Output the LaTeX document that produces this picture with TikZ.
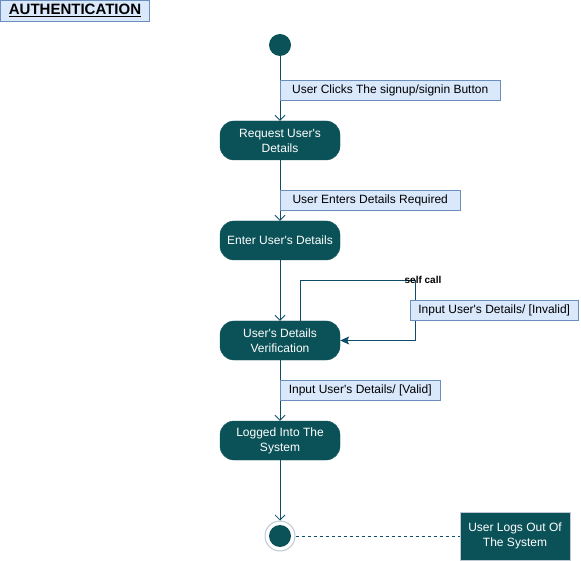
\documentclass[tikz,border=0pt]{standalone}
\usepackage{fontspec}
\setmainfont{Liberation Sans}
\usetikzlibrary{arrows.meta}
\definecolor{actfill}{HTML}{0B5258}
\definecolor{flowline}{HTML}{0E4D6A}
\definecolor{lblfill}{HTML}{DAE8FC}
\definecolor{lblline}{HTML}{6C8EBF}
\definecolor{ringline}{HTML}{BFC9D3}
\newcommand{\ap}{\textquotesingle}

\begin{document}
\begin{tikzpicture}[x=1pt,y=-1pt]
    \tikzstyle{every node}=[font=\fontsize{12}{15}\selectfont];
    \tikzstyle{activity}=[draw=actfill,fill=actfill,text=white,rounded corners=14pt,minimum width=120pt,minimum height=39pt,align=center,inner sep=1pt];
    \tikzstyle{guard}=[draw=lblline,fill=lblfill,anchor=west,minimum height=20pt,inner sep=1pt];
    \tikzstyle{flow}=[draw=flowline,line width=0.8pt,-{Straight Barb[length=5pt,width=10pt]}];
    \useasboundingbox (0,0) rectangle (581,561);
    \node[draw=lblline,fill=lblfill,minimum width=149pt,minimum height=21pt,inner sep=1pt,font=\fontsize{15}{17}\selectfont\bfseries] (title) at (75,10.5) {\underline{AUTHENTICATION}};
    \node[circle,fill=actfill,minimum size=22pt,inner sep=0pt] (start) at (280,45) {};
    \node[activity] (request) at (280,140.5) {Request User\ap s\\Details};
    \node[activity] (enter) at (280,240.5) {Enter User\ap s Details};
    \node[activity] (verify) at (280,340.5) {User\ap s Details\\Verification};
    \node[activity] (logged) at (280,440.5) {Logged Into The\\System};
    \node[circle,draw=ringline,fill=white,line width=1pt,minimum size=30pt,inner sep=0pt] (final) at (280,536) {};
    \node[circle,fill=actfill,minimum size=22pt,inner sep=0pt] (finaldot) at (final) {};
    \node[draw=ringline,fill=actfill,text=white,minimum width=110pt,minimum height=48pt,align=center,inner sep=1pt] (logout) at (515,536) {User Logs Out Of\\The System};
    \coordinate (turn) at (415,280);
    % main flow
    \draw[flow] (start) -- (request);
    \draw[flow] (request) -- (enter);
    \draw[flow] (enter) -- (verify);
    \draw[flow] (verify) -- (logged);
    \draw[flow] (logged) -- (final);
    % self call loop
    \draw[draw=flowline,line width=0.8pt,-{Stealth[length=9pt,width=8pt,inset=2pt]}] ([xshift=20pt]verify.north) |- (turn) |- (verify.east);
    \node[font=\fontsize{10}{12}\selectfont\bfseries,inner sep=1pt] (selfcall) at ([xshift=8pt]turn) {self call};
    \draw[flowline,dashed,dash pattern=on 3pt off 3pt,line width=0.8pt] (final) -- (logout);
    % guard labels
    \node[guard,minimum width=220pt] (clicks) at (280,90) {User Clicks The signup/signin Button};
    \node[guard,minimum width=180pt] (enters) at (280,200) {User Enters Details Required};
    \node[guard,minimum width=168pt] (invalid) at (410,310.5) {Input User\ap s Details/ [Invalid]};
    \node[guard,minimum width=160pt] (valid) at (280,390) {Input User\ap s Details/ [Valid]};
\end{tikzpicture}
\end{document}
